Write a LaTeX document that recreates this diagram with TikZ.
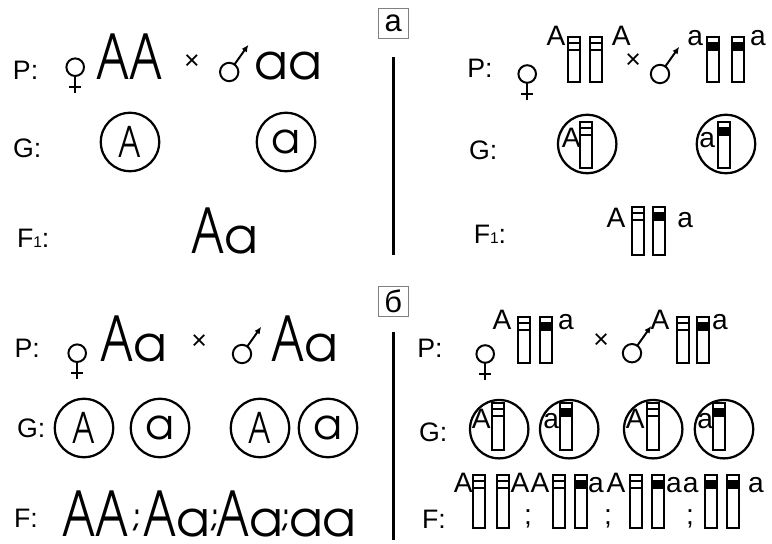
\documentclass[tikz,border=0pt]{standalone}
\usepackage{fontspec}
\setmainfont{Liberation Sans}
\newfontfamily\geo{texgyreadventor-regular.otf}
\usetikzlibrary{arrows.meta}

\newcommand\nA{\scalebox{0.72}[1]{A}}
\newcommand\sma{{\fontsize{35}{35}\selectfont a}}
\newcommand\lowsub[1]{{\fontsize{11}{11}\selectfont #1}}

\tikzset{
  lbl/.style={font=\fontsize{19}{19}\selectfont, inner sep=0pt, anchor=base},
  xs/.style={font=\fontsize{19}{19}\selectfont, inner sep=0pt},
  gen/.style={font=\geo\fontsize{44}{44}\selectfont, inner sep=0pt, anchor=base},
  semi/.style={gen, font=\geo\fontsize{26}{26}\selectfont},
  gam/.style={draw, circle, line width=1.6pt, minimum size=1.46cm, inner sep=0pt,
    font=\geo\fontsize{30}{30}\selectfont},
  al/.style={font=\fontsize{20}{20}\selectfont, inner sep=0pt, anchor=base},
  tag/.style={draw=gray, line width=0.6pt, minimum size=0.75cm, inner sep=0pt,
    font=\fontsize{22}{22}\selectfont},
  sym/.style={line width=1.4pt},
  pics/female/.style={code={
    \draw[sym] (0,0) circle (0.22);
    \draw[sym] (0,-0.22) -- (0,-0.65);
    \draw[sym] (-0.15,-0.5) -- (0.15,-0.5);
  }},
  pics/male/.style={code={
    \draw[sym] (0,0) circle (0.23);
    \draw[sym,->] (55:0.23) -- (0.48,0.68);
  }},
  % chromosome: #1 = band fill, #2 = length
  pics/chromo/.style 2 args={code={
    \draw[line width=1.3pt] (0,0) rectangle (0.3,-#2);
    \filldraw[line width=1.3pt, fill=#1] (0,-0.15) rectangle (0.3,-0.33);
  }}
}

\begin{document}
\begin{tikzpicture}[>={Latex[length=5pt,width=4.5pt]}]
\useasboundingbox (0,0) rectangle (19.3,-13.6);

% tags and dividers
\node[tag] (ta) at (9.83,-0.58) {а};
\node[tag] (tb) at (9.83,-7.53) {б};
\draw[line width=2pt] (9.83,-1.43) -- (9.83,-6.38);
\draw[line width=2pt] (9.83,-8.3) -- (9.83,-13.5);

% a, letters
\node[lbl] (pl1) at (0.64,-1.98) {P:};
\pic at (1.88,-1.68) {female};
\node[gen] (p1f) at (3.23,-2.0) {\nA\nA};
\node[xs] (x1) at (4.8,-1.55) {×};
\pic at (5.73,-1.8) {male};
\node[gen] (p1m) at (7.2,-2.0) {\sma\sma};
\node[lbl] (gl1) at (0.68,-3.93) {G:};
\node[gam] (g1a) at (3.25,-3.55) {\nA};
\node[gam] (g1b) at (7.15,-3.55) {a};
\node[lbl] (fl1) at (0.83,-6.2) {F\lowsub1:};
\node[gen] (f1) at (5.63,-6.33) {\nA\sma};

% a, chromosomes
\node[lbl] (pl2) at (12.0,-1.93) {P:};
\pic at (13.18,-1.85) {female};
\node[al] (p2a) at (13.9,-1.13) {A};
\pic at (14.2,-0.93) {chromo={white}{1.13}};
\pic at (14.75,-0.93) {chromo={white}{1.13}};
\node[al] (p2b) at (15.53,-1.13) {A};
\node[xs] (x2) at (15.83,-1.53) {×};
\pic at (16.5,-1.85) {male};
\node[al] (p2c) at (17.38,-1.13) {a};
\pic at (17.68,-0.93) {chromo={black}{1.13}};
\pic at (18.3,-0.93) {chromo={black}{1.13}};
\node[al] (p2d) at (18.95,-1.13) {a};

\node[lbl] (gl2) at (12.08,-4.0) {G:};
\node[gam] (g2a) at (14.68,-3.6) {};
\node[al] (g2al) at (14.28,-3.68) {A};
\pic at (14.5,-3.05) {chromo={white}{1.15}};
\node[gam] (g2b) at (18.15,-3.6) {};
\node[al] (g2bl) at (17.68,-3.68) {a};
\pic at (17.95,-3.05) {chromo={black}{1.15}};

\node[lbl] (fl2) at (12.25,-6.08) {F\lowsub1:};
\node[al] (f2a) at (15.4,-5.7) {A};
\pic at (15.8,-5.18) {chromo={white}{1.2}};
\pic at (16.33,-5.18) {chromo={black}{1.2}};
\node[al] (f2b) at (17.13,-5.7) {a};

% b, letters
\node[lbl] (pl3) at (0.68,-8.95) {P:};
\pic at (1.93,-8.83) {female};
\node[gen] (p3f) at (3.35,-9.05) {\nA\sma};
\node[xs] (x3) at (4.98,-8.55) {×};
\pic at (6.05,-8.85) {male};
\node[gen] (p3m) at (7.63,-9.05) {\nA\sma};
\node[lbl] (gl3) at (0.78,-10.95) {G:};
\node[gam] (g3a) at (2.1,-10.7) {\nA};
\node[gam] (g3b) at (4.0,-10.7) {a};
\node[gam] (g3c) at (6.5,-10.7) {\nA};
\node[gam] (g3d) at (8.2,-10.7) {a};
\node[lbl] (fl3) at (0.65,-13.18) {F:};
\node[gen] (f3a) at (2.38,-13.42) {\nA\nA};
\node[semi] (s3a) at (3.42,-13.2) {;};
\node[gen] (f3b) at (4.42,-13.42) {\nA\sma};
\node[semi] (s3b) at (5.36,-13.2) {;};
\node[gen] (f3c) at (6.25,-13.42) {\nA\sma};
\node[semi] (s3c) at (7.15,-13.2) {;};
\node[gen] (f3d) at (8.07,-13.42) {\sma\sma};

% b, chromosomes
\node[lbl] (pl4) at (10.75,-8.93) {P:};
\pic at (12.13,-8.85) {female};
\node[al] (p4a) at (12.55,-8.25) {A};
\pic at (12.95,-7.93) {chromo={white}{1.15}};
\pic at (13.5,-7.93) {chromo={black}{1.15}};
\node[al] (p4b) at (14.15,-8.25) {a};
\node[xs] (x4) at (15.03,-8.53) {×};
\pic at (15.8,-8.83) {male};
\node[al] (p4c) at (16.5,-8.25) {A};
\pic at (16.93,-7.93) {chromo={white}{1.15}};
\pic at (17.43,-7.93) {chromo={black}{1.15}};
\node[al] (p4d) at (18.0,-8.25) {a};

\node[lbl] (gl4) at (10.83,-11.05) {G:};
\node[gam] (g4a) at (12.48,-10.73) {};
\node[al] (g4al) at (12.03,-10.7) {A};
\pic at (12.3,-10.08) {chromo={white}{1.17}};
\node[gam] (g4b) at (14.23,-10.73) {};
\node[al] (g4bl) at (13.78,-10.7) {a};
\pic at (14.0,-10.08) {chromo={black}{1.17}};
\node[gam] (g4c) at (16.33,-10.73) {};
\node[al] (g4cl) at (15.88,-10.7) {A};
\pic at (16.18,-10.08) {chromo={white}{1.17}};
\node[gam] (g4d) at (18.1,-10.73) {};
\node[al] (g4dl) at (17.63,-10.7) {a};
\pic at (17.83,-10.08) {chromo={black}{1.17}};

\node[lbl] (fl4) at (10.85,-13.2) {F:};
\node[al] (f4a) at (11.58,-12.3) {A};
\pic at (11.83,-11.88) {chromo={white}{1.32}};
\pic at (12.43,-11.88) {chromo={white}{1.32}};
\node[al] (f4b) at (13.0,-12.3) {A};
\node[al] (s4a) at (13.2,-13.1) {;};
\node[al] (f4c) at (13.5,-12.3) {A};
\pic at (13.83,-11.88) {chromo={white}{1.32}};
\pic at (14.38,-11.88) {chromo={black}{1.32}};
\node[al] (f4d) at (14.9,-12.3) {a};
\node[al] (f4e) at (15.4,-12.3) {A};
\node[al] (s4b) at (15.2,-13.1) {;};
\pic at (15.75,-11.88) {chromo={white}{1.32}};
\pic at (16.3,-11.88) {chromo={black}{1.32}};
\node[al] (f4f) at (16.85,-12.3) {a};
\node[al] (f4g) at (17.27,-12.3) {a};
\node[al] (s4c) at (17.25,-13.1) {;};
\pic at (17.62,-11.88) {chromo={black}{1.32}};
\pic at (18.17,-11.88) {chromo={black}{1.32}};
\node[al] (f4h) at (18.9,-12.3) {a};
\end{tikzpicture}
\end{document}
